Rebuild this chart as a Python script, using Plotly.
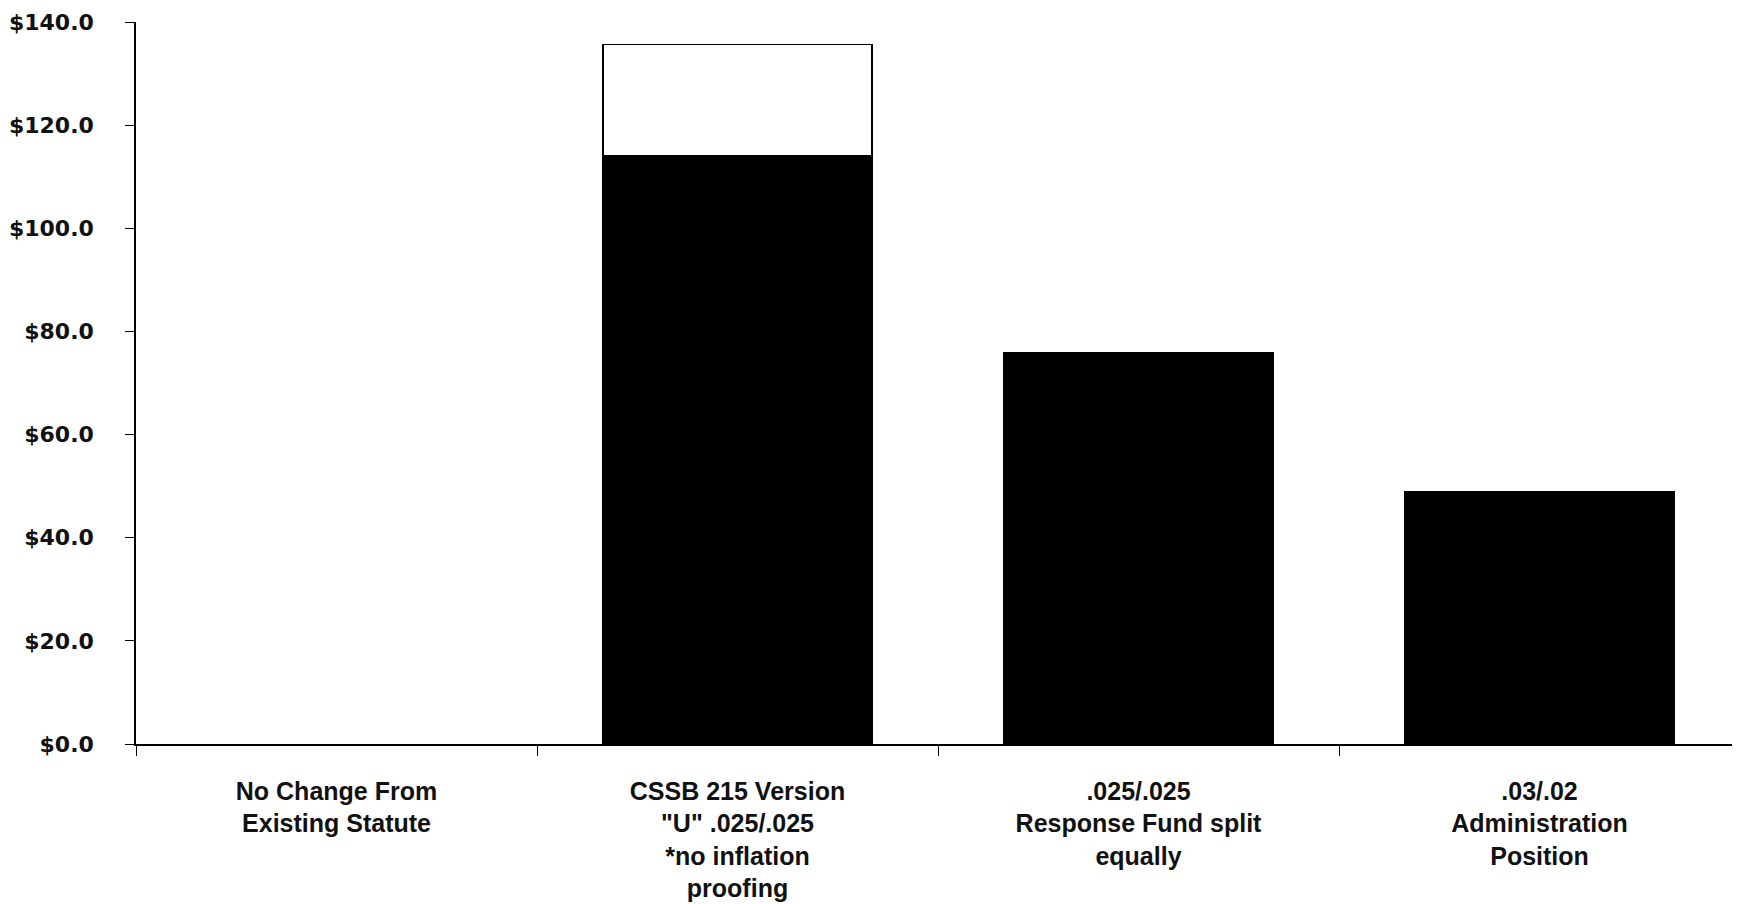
import plotly.graph_objects as go

categories = [
    "No Change From<br>Existing Statute",
    "CSSB 215 Version<br>\"U\" .025/.025<br>*no inflation<br>proofing",
    ".025/.025<br>Response Fund split<br>equally",
    ".03/.02<br>Administration<br>Position",
]
base_values = [0.0, 114.1, 75.8, 48.9]
extra_values = [0.0, 21.5, 0.0, 0.0]
y_ticks = [0, 20, 40, 60, 80, 100, 120, 140]
y_tick_labels = ["$%.1f" % v for v in y_ticks]

outline = [0 if (b + e) == 0 else 1.5 for b, e in zip(base_values, extra_values)]

fig = go.Figure()
fig.add_trace(go.Bar(
    x=categories, y=base_values, width=0.67,
    marker=dict(color="#000000", line=dict(color="#000000", width=outline)),
    showlegend=False,
))
fig.add_trace(go.Bar(
    x=categories, y=extra_values, width=0.67,
    marker=dict(color="#ffffff",
                line=dict(color="#000000", width=[1.5 if v > 0 else 0 for v in extra_values])),
    showlegend=False,
))

# The page body has an 8px default margin, so the figure is sized to fit inside the window.
fig.update_layout(
    barmode="stack",
    width=1732, height=896,
    margin=dict(l=128, r=0, t=14, b=160),
    paper_bgcolor="white", plot_bgcolor="white",
    font=dict(family="Liberation Sans, Arial", color="#111111"),
)
fig.update_xaxes(
    type="category", range=[-0.5, 3.5], automargin=False,
    showline=True, linecolor="#000000", linewidth=1.5,
    ticks="outside", ticklen=10, tickwidth=1, tickcolor="#000000",
    tickson="boundaries",
    tickfont=dict(family="Liberation Sans, Arial", size=25, color="#111111", weight="bold"),
    ticklabelstandoff=24,
    showgrid=False, zeroline=False,
)
fig.update_yaxes(
    range=[0, 140], tickvals=y_ticks, ticktext=y_tick_labels, automargin=False,
    showline=True, linecolor="#000000", linewidth=1.5,
    ticks="outside", ticklen=9, tickwidth=1, tickcolor="#000000",
    tickfont=dict(family="DejaVu Sans", size=22, color="#111111", weight="bold"),
    ticklabelstandoff=27,
    showgrid=False, zeroline=False,
)

fig.write_html("out.html")
